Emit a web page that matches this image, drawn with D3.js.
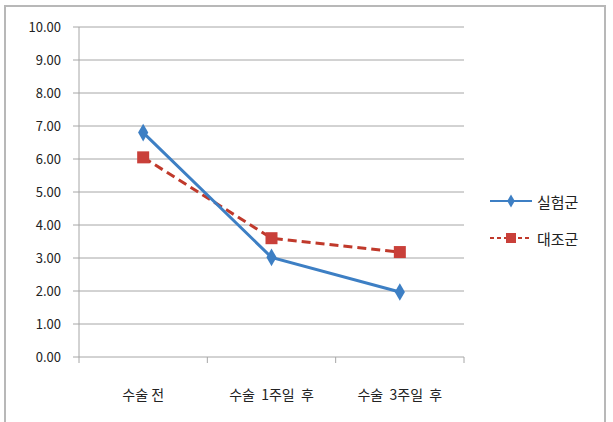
<!DOCTYPE html>
<html>
<head>
<meta charset="utf-8">
<script src="https://cdn.jsdelivr.net/npm/d3@7"></script>
<style>
  body { margin: 0; background: #fff; }
  text { font-family: "Noto Sans CJK KR", "Noto Sans", sans-serif; }
</style>
</head>
<body>
<div id="chart"></div>
<script>
// 데이터
const categories = ['수술 전', '수술  1주일  후', '수술  3주일  후'];
const experimental = [6.8, 3.02, 1.97];
const control = [6.05, 3.6, 3.18];
const yTicks = [0, 1, 2, 3, 4, 5, 6, 7, 8, 9, 10];
const seriesNames = ['실험군', '대조군'];

const width = 613;
const height = 422;
const plot = { left: 79, right: 464, top: 27, bottom: 357 };

const svg = d3.select('#chart').append('svg')
  .attr('width', width).attr('height', height);

// 바깥 테두리
svg.append('path')
  .attr('d', `M5,${height} L5,6 L605,6 L605,${height}`)
  .attr('fill', 'none')
  .attr('stroke', '#b8b8b8')
  .attr('stroke-width', 2);

const x = d3.scaleBand().domain(categories).range([plot.left, plot.right]);
const y = d3.scaleLinear().domain([0, 10]).range([plot.bottom, plot.top]);

// 가로 격자
svg.append('g')
  .selectAll('line').data(yTicks)
  .enter().append('line')
  .attr('x1', plot.left - 6).attr('x2', plot.right)
  .attr('y1', d => y(d)).attr('y2', d => y(d))
  .attr('stroke', '#a6a6a6').attr('stroke-width', 1);

// y 축
svg.append('line')
  .attr('x1', plot.left).attr('x2', plot.left)
  .attr('y1', plot.top).attr('y2', plot.bottom + 6)
  .attr('stroke', '#a6a6a6');

svg.append('g')
  .selectAll('text').data(yTicks)
  .enter().append('text')
  .attr('x', plot.left - 18).attr('y', d => y(d))
  .attr('dy', '0.35em')
  .attr('text-anchor', 'end')
  .attr('font-size', 13)
  .attr('fill', '#222')
  .text(d => d.toFixed(2));

// x 축 눈금
const bounds = categories.map(c => x(c)).concat([plot.right]);
svg.append('g')
  .selectAll('line').data(bounds.slice(1))
  .enter().append('line')
  .attr('x1', d => d).attr('x2', d => d)
  .attr('y1', plot.bottom).attr('y2', plot.bottom + 6)
  .attr('stroke', '#a6a6a6');

svg.append('g')
  .selectAll('text').data(categories)
  .enter().append('text')
  .attr('x', d => x(d) + x.bandwidth() / 2)
  .attr('y', 400)
  .attr('text-anchor', 'middle')
  .attr('font-size', 14)
  .attr('fill', '#222')
  .style('white-space', 'pre')
  .attr('xml:space', 'preserve')
  .text(d => d);

const cx = (d, i) => x(categories[i]) + x.bandwidth() / 2;
const line = d3.line().x(cx).y(d => y(d));

// 대조군
svg.append('path')
  .attr('d', line(control))
  .attr('fill', 'none')
  .attr('stroke', '#c0392b')
  .attr('stroke-width', 3)
  .attr('stroke-dasharray', '9,5');

svg.append('g')
  .selectAll('rect').data(control)
  .enter().append('rect')
  .attr('x', (d, i) => cx(d, i) - 6)
  .attr('y', d => y(d) - 6)
  .attr('width', 12).attr('height', 12)
  .attr('fill', '#c9403a');

// 실험군
svg.append('path')
  .attr('d', line(experimental))
  .attr('fill', 'none')
  .attr('stroke', '#3d7fc4')
  .attr('stroke-width', 3);

svg.append('g')
  .selectAll('path').data(experimental)
  .enter().append('path')
  .attr('d', d3.symbol().type(d3.symbolDiamond).size(90))
  .attr('transform', (d, i) => `translate(${cx(d, i)},${y(d)})`)
  .attr('fill', '#3d7fc4');

// 범례
const legend = svg.append('g');
const legendY = [201, 238];
seriesNames.forEach((name, i) => {
  const g = legend.append('g').attr('transform', `translate(490,${legendY[i]})`);
  g.append('line')
    .attr('x1', 0).attr('x2', 42)
    .attr('stroke', i === 0 ? '#3d7fc4' : '#c0392b')
    .attr('stroke-width', 2)
    .attr('stroke-dasharray', i === 0 ? null : '4,3');
  if (i === 0) {
    g.append('path')
      .attr('d', d3.symbol().type(d3.symbolDiamond).size(50))
      .attr('transform', 'translate(21,0)')
      .attr('fill', '#3d7fc4');
  } else {
    g.append('rect')
      .attr('x', 16).attr('y', -5).attr('width', 10).attr('height', 10)
      .attr('fill', '#c9403a');
  }
  g.append('text')
    .attr('x', 47).attr('y', 0).attr('dy', '0.45em')
    .attr('font-size', 15)
    .attr('fill', '#222')
    .text(name);
});
</script>
</body>
</html>
